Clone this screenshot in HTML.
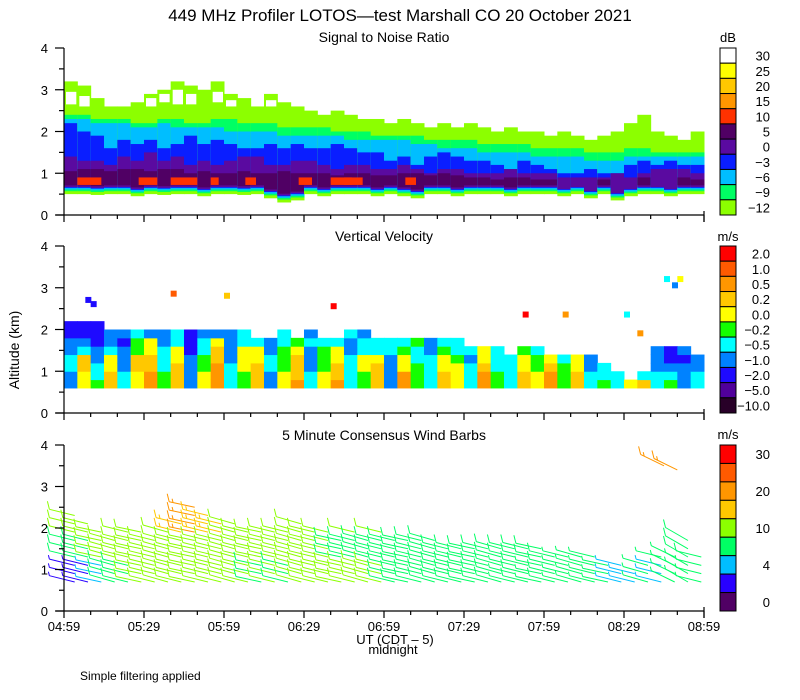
<!DOCTYPE html>
<html><head><meta charset="utf-8"><style>
html,body{margin:0;padding:0;background:#fff;}
svg{display:block;font-family:"Liberation Sans",sans-serif;}
</style></head><body>
<svg id="chart" width="800" height="700" viewBox="0 0 800 700">
<rect width="800" height="700" fill="#fff"/>
<text x="400" y="21" font-size="17" text-anchor="middle">449 MHz Profiler LOTOS—test Marshall CO 20 October 2021</text>
<text x="384" y="42" font-size="14" text-anchor="middle">Signal to Noise Ratio</text>
<text x="384" y="241" font-size="14" text-anchor="middle">Vertical Velocity</text>
<text x="384" y="440" font-size="14" text-anchor="middle">5 Minute Consensus Wind Barbs</text>
<text x="19" y="350" font-size="14" text-anchor="middle" transform="rotate(-90 19 350)">Altitude (km)</text>
<text x="395" y="644" font-size="13" text-anchor="middle">UT  (CDT – 5)</text>
<text x="393" y="654" font-size="13" text-anchor="middle">midnight</text>
<text x="80" y="680" font-size="12">Simple filtering applied</text>
<text x="728" y="42" font-size="13" text-anchor="middle">dB</text>
<text x="728" y="241" font-size="13" text-anchor="middle">m/s</text>
<text x="728" y="439" font-size="13" text-anchor="middle">m/s</text>
<g id="layers"></g>
</svg>
<script>
// ---- time axis ----
const xTickLabels=["04:59","05:29","05:59","06:29","06:59","07:29","07:59","08:29","08:59"];
// ---- SNR data (km), columns every 5 minutes ----
const snrBase=[0.5,0.5,0.48,0.5,0.5,0.45,0.5,0.48,0.5,0.5,0.45,0.5,0.5,0.48,0.5,0.4,0.3,0.35,0.5,0.45,0.5,0.5,0.5,0.45,0.5,0.45,0.4,0.5,0.5,0.45,0.5,0.5,0.5,0.45,0.5,0.5,0.5,0.45,0.5,0.4,0.5,0.35,0.45,0.5,0.5,0.45,0.5,0.5];
const snrLimeTop=[3.2,3.1,2.8,2.6,2.6,2.7,2.9,3.0,3.2,3.1,3.0,3.2,2.9,2.8,2.6,2.9,2.7,2.6,2.5,2.4,2.5,2.4,2.3,2.3,2.2,2.3,2.2,2.1,2.2,2.1,2.2,2.1,2.0,2.1,2.0,2.0,1.9,2.0,1.9,1.8,1.9,2.0,2.2,2.4,2.0,1.9,1.8,2.0];
const snrHoleBot=[2.65,2.6,0,0,0,0,2.6,2.7,2.65,2.65,0,2.7,2.6,0,0,2.6,0,0,0,0,0,0,0,0,0,0,0,0,0,0,0,0,0,0,0,0,0,0,0,0,0,0,0,0,0,0,0,0];
const snrHoleTop=[2.95,2.85,0,0,0,0,2.8,2.9,3.0,2.9,0,2.95,2.75,0,0,2.75,0,0,0,0,0,0,0,0,0,0,0,0,0,0,0,0,0,0,0,0,0,0,0,0,0,0,0,0,0,0,0,0];
const snrGreenTop=[2.4,2.4,2.3,2.3,2.3,2.2,2.2,2.3,2.3,2.2,2.2,2.3,2.3,2.2,2.2,2.2,2.1,2.1,2.1,2.1,2.0,2.0,2.0,1.9,1.9,1.9,1.9,1.8,1.8,1.8,1.8,1.7,1.7,1.7,1.7,1.6,1.6,1.6,1.6,1.5,1.5,1.5,1.6,1.6,1.5,1.5,1.5,1.5];
const snrCyanTop=[2.3,2.3,2.2,2.2,2.2,2.1,2.1,2.2,2.1,2.1,2.1,2.1,2.0,2.0,2.0,2.0,1.9,1.9,1.9,1.9,1.9,1.8,1.8,1.8,1.8,1.8,1.7,1.7,1.6,1.6,1.6,1.5,1.5,1.5,1.5,1.4,1.4,1.4,1.4,1.3,1.3,1.3,1.4,1.4,1.4,1.4,1.4,1.4];
const snrBlueTop=[2.2,2.0,1.9,1.6,1.8,1.7,1.8,1.6,1.7,1.9,1.7,1.8,1.7,1.6,1.6,1.7,1.6,1.7,1.6,1.6,1.7,1.6,1.5,1.5,1.3,1.4,1.2,1.4,1.5,1.4,1.3,1.3,1.2,1.1,1.3,1.2,1.1,1.0,1.0,1.1,1.0,1.0,1.2,1.3,1.2,1.3,1.2,1.2];
const snrPurpleTop=[1.4,1.3,1.3,1.2,1.4,1.3,1.5,1.3,1.4,1.2,1.3,1.2,1.3,1.4,1.4,1.2,1.2,1.3,1.3,1.2,1.1,1.2,1.2,1.1,1.1,1.2,1.1,1.0,1.1,1.1,1.0,1.0,1.0,1.1,1.0,1.0,1.0,0.9,0.9,0.9,0.9,1.0,0.9,1.0,1.1,1.1,1.1,1.0];
const snrDarkTop=[1.05,1.1,1.1,1.05,1.1,1.1,1.05,1.1,1.1,1.0,1.05,1.0,1.0,1.05,1.0,1.0,1.05,1.0,1.0,1.0,0.95,1.0,1.0,0.95,0.95,1.0,1.0,0.95,1.0,0.95,0.9,0.9,0.85,0.9,0.9,0.85,0.85,0,0,0,0.85,0,0,0.9,0,0,0.9,0.85];
const redStart=[5,28,40,55,68,88,100,105,128];
const redEnd=[14,35,50,58,72,93,112,108,132];
const snrLabels=["30","25","20","15","10","5","0","−3","−6","−9","−12"];
// ---- vertical velocity classes (0=>2.0 ... 10=-10), bottom-up 0.2 km cells from 0.6 km ----
const velCols=["77667788","44336788","56677888","3344677","6677787","4433556","2233447","5566677","3334466","7777888","4455667","2223347","6667777","5544466","333446","776677","4455566","233345","6677767","445556","233446","6666776","5544667","333466","777766","224456","555665","666677","334456","444566","66676","22344","55666","6666","33445","44556","2234","5556","3344","6677","566","66","4","36","66777","56788","77787","6677"];
const velPatchT=[8,10,40,60,100,172,187,210,225,230,228,215];
const velPatchH=[2.7,2.6,2.85,2.8,2.55,2.35,2.35,2.35,3.2,3.2,3.05,1.9];
const velPatchC=[8,8,1,3,0,0,2,6,6,4,7,2];
const velLabels=["2.0","1.0","0.5","0.2","0.0","−0.2","−0.5","−1.0","−2.0","−5.0","−10.0"];
// ---- wind barbs, columns every 5 minutes ----
const windTop=[2.3,2.1,1.9,1.7,1.9,2.0,1.7,1.9,2.1,2.5,2.3,2.2,2.1,2.0,1.9,1.9,2.0,2.1,1.9,1.9,1.8,1.9,1.8,1.9,1.7,1.8,1.7,1.7,1.6,1.6,1.6,1.5,1.6,1.5,1.6,1.5,1.4,1.4,1.3,1.3,1.2,1.1,1.0,1.1,1.3,1.4,1.7,1.4];
const windSpdLow=[3,3,4,9,9,10,10,11,11,11,10,11,10,10,9,10,9,10,11,11,10,11,10,10,9,9,8,8,9,8,8,8,8,7,8,7,8,7,6,6,6,5,5,6,5,6,7,7];
const windSpdMid=[9,9,10,10,10,11,11,11,11,12,11,11,11,10,10,11,10,10,10,10,9,9,9,9,9,8,8,8,8,8,9,8,8,8,8,8,8,7,7,7,7,6,6,6,6,7,8,8];
const windSpdHigh=[11,11,11,11,12,12,12,12,13,17,13,13,12,12,12,11,12,12,11,11,10,10,10,10,10,9,9,9,9,9,9,9,9,9,9,9,8,8,8,8,8,8,8,8,8,8,8,8];
const windDir=[284,284,282,286,284,282,284,286,284,282,284,284,286,284,282,284,284,286,284,284,282,284,286,284,284,282,284,286,284,284,282,284,286,284,284,282,284,284,286,284,282,284,284,286,284,296,300,284];
const upperBarbT=[225,230];
const upperBarbH=[3.5,3.4];
const upperBarbS=[17,17];
const windLabels=["30","","20","","10","","4","","0"];

const NS="http://www.w3.org/2000/svg";
const root=document.getElementById('layers');
function mk(tag,attrs,parent){const e=document.createElementNS(NS,tag);for(const k in attrs)e.setAttribute(k,attrs[k]);(parent||root).appendChild(e);return e;}
const X0=64,X1=704,TMAX=240;
const xs=t=>X0+t*(X1-X0)/TMAX;
const panels=[{top:48,bot:215},{top:246,bot:413},{top:445,bot:611}];
const yk=(p,h)=>panels[p].bot-h*(panels[p].bot-panels[p].top)/4;
const COLW=xs(5)-xs(0);

// SNR
const snrColors=["#ffffff","#ffff00","#ffc800","#ff9600","#ff3200","#500064","#5a0aa0","#0a1eff","#00beff","#00ff64","#8cff00"];
const gS=mk('g',{});


const bands=[[snrLimeTop,0,10],[snrGreenTop,0.07,9],[snrCyanTop,0.11,8],[snrBlueTop,0.15,7],[snrPurpleTop,0.17,6],[snrDarkTop,0.21,5]];
for(let i=0;i<snrBase.length;i++){
  const x=xs(i*5);
  bands.forEach(([arr,off,ci])=>{
    const top=arr[i]; const b=snrBase[i]+off;
    if(top<=b) return;
    const r=mk('rect',{x:x.toFixed(2),y:yk(0,top).toFixed(2),width:(COLW+0.5).toFixed(2),height:(yk(0,b)-yk(0,top)).toFixed(2),fill:snrColors[ci]},gS);
    
    
  });
  if(snrHoleTop[i]>snrHoleBot[i]){
    const r=mk('rect',{x:(x+2).toFixed(2),y:yk(0,snrHoleTop[i]).toFixed(2),width:(COLW-3).toFixed(2),height:(yk(0,snrHoleBot[i])-yk(0,snrHoleTop[i])).toFixed(2),fill:'#fff'},gS);
    
    
  }
}
for(let k=0;k<redStart.length;k++){
  const r=mk('rect',{x:xs(redStart[k]),y:yk(0,0.9),width:xs(redEnd[k])-xs(redStart[k]),height:yk(0,0.72)-yk(0,0.9),fill:snrColors[4]},gS);
  
  
}

// Velocity
const velColors=["#ff0000","#ff5a00","#ff9600","#ffc800","#ffff00","#14ff00","#00ffff","#0082ff","#1e0aff","#50009b","#280028"];
const gV=mk('g',{});


for(let i=0;i<velCols.length;i++){
  const s=velCols[i];
  for(let j=0;j<s.length;j++){
    const h0=0.6+0.2*j;
    const r=mk('rect',{x:xs(i*5).toFixed(2),y:yk(1,h0+0.2).toFixed(2),width:(COLW+0.5).toFixed(2),height:(yk(1,h0)-yk(1,h0+0.2)+0.5).toFixed(2),fill:velColors[+s[j]]},gV);
    
    
  }
}
for(let k=0;k<velPatchT.length;k++){
  const r=mk('rect',{x:xs(velPatchT[k]),y:yk(1,velPatchH[k]+0.08),width:6,height:6,fill:velColors[velPatchC[k]]},gV);
  
  
}

// Wind barbs
const windColors=["#ff0000","#ff5a00","#ff9600","#ffc800","#8cff00","#00ff64","#00beff","#2800ff","#500064"];
function windColor(s){const th=[27,22,15,13,9.5,5.5,3.5,2];for(let i=0;i<th.length;i++){if(s>=th[i])return windColors[i];}return windColors[8];}
const gW=mk('g',{fill:'none','stroke-width':1});


function barb(t,h,spd,dir){
  const x=xs(t),y=yk(2,h);
  const a=dir*Math.PI/180;
  const ux=Math.sin(a),uy=-Math.cos(a);
  const L=26,ex=x+ux*L,ey=y+uy*L;
  const c=windColor(spd);
  let d=`M${x.toFixed(1)} ${y.toFixed(1)}L${ex.toFixed(1)} ${ey.toFixed(1)}`;
  let v=Math.round(spd/5)*5,pos=0;
  while(v>=10){const bx=ex-ux*pos*4,by=ey-uy*pos*4;d+=`M${bx.toFixed(1)} ${by.toFixed(1)}l-2 -8`;v-=10;pos++;}
  if(v>=5){const bx=ex-ux*pos*4,by=ey-uy*pos*4;d+=`M${bx.toFixed(1)} ${by.toFixed(1)}l-1 -4`;}
  const p=mk('path',{d:d,stroke:c},gW);
  
  
}
for(let i=0;i<windTop.length;i++){
  for(let h=0.7;h<=windTop[i]+0.001;h+=0.2){
    const s=h<1.1?windSpdLow[i]:(h<1.7?windSpdMid[i]:windSpdHigh[i]);
    barb(i*5+4,h,s,windDir[i]);
  }
}
for(let k=0;k<upperBarbT.length;k++) barb(upperBarbT[k],upperBarbH[k],upperBarbS[k],296);

// Axes
for(let p=0;p<3;p++){
  const g=mk('g',{stroke:'#000','stroke-width':1.2});
  
  
  mk('line',{x1:X0,y1:panels[p].top,x2:X0,y2:panels[p].bot},g);
  mk('line',{x1:X0-8,y1:panels[p].bot,x2:X1,y2:panels[p].bot},g);
  for(let h=0;h<=4;h+=0.5){
    const y=yk(p,h);
    mk('line',{x1:X0-(h%1===0?9:5),y1:y,x2:X0,y2:y},g);
    if(h%1===0){const t=mk('text',{x:X0-16,y:y+5,'font-size':13,'text-anchor':'end',stroke:'none',fill:'#000'},g);t.textContent=String(h);
      
      }
  }
  for(let t=0;t<=TMAX;t+=10){
    const x=xs(t);
    mk('line',{x1:x,y1:panels[p].bot,x2:x,y2:panels[p].bot+(t%30===0?7:4)},g);
  }
  mk('line',{x1:X1,y1:panels[p].bot-4,x2:X1,y2:panels[p].bot+7},g);
}
xTickLabels.forEach((lab,i)=>{
  const t=mk('text',{x:xs(i*30),y:631,'font-size':13,'text-anchor':'middle'});
  t.textContent=lab;
  
  
});

// Colorbars
function colorbar(p,colors,labels,name){
  const g=mk('g',{});
  
  
  const top=panels[p].top,bot=panels[p].bot,n=colors.length,bh=(bot-top)/n;
  colors.forEach((c,i)=>{
    const r=mk('rect',{x:720,y:top+i*bh,width:16,height:bh,fill:c,stroke:'#000','stroke-width':1},g);
    
    
    if(labels[i]){const t=mk('text',{x:770,y:top+i*bh+bh/2+5,'font-size':13,'text-anchor':'end'},g);t.textContent=labels[i];
      
      }
  });
}
colorbar(0,snrColors,snrLabels,'snr-colorbar');
colorbar(1,velColors,velLabels,'velocity-colorbar');
colorbar(2,windColors,windLabels,'wind-colorbar');
</script>
</body></html>
